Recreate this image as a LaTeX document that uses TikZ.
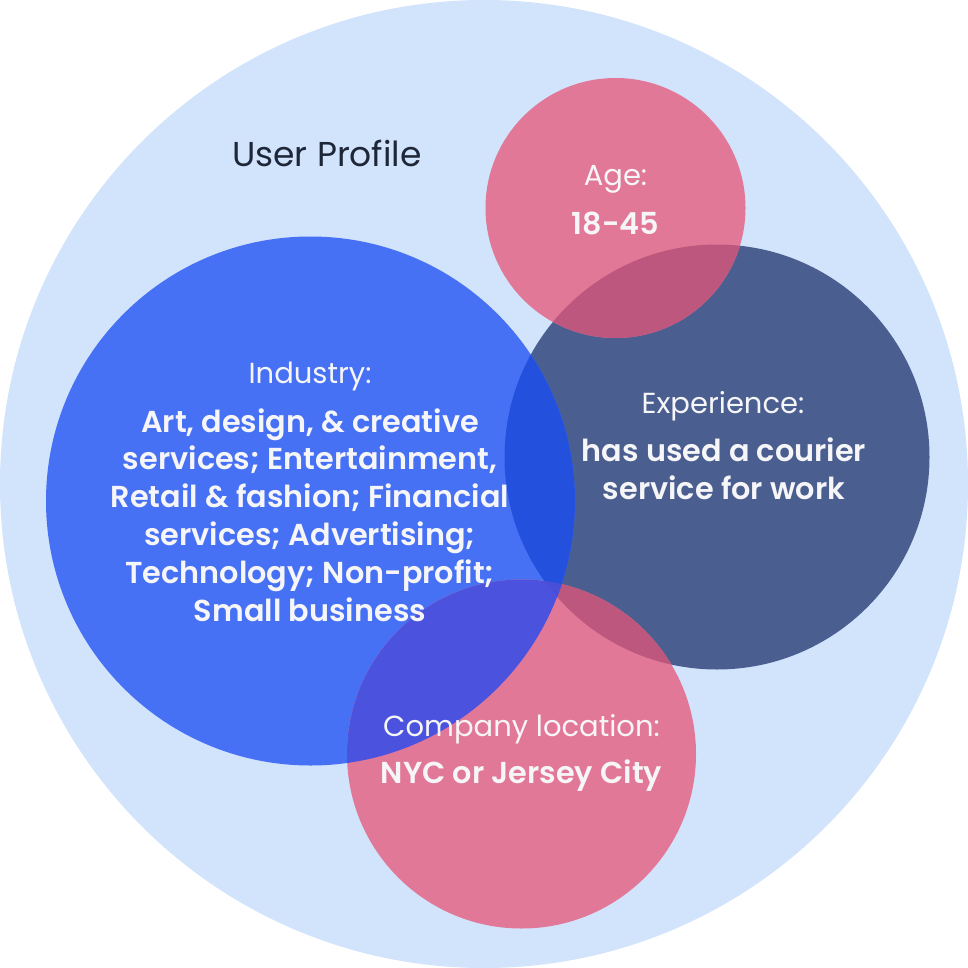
\documentclass[tikz,border=0pt]{standalone}
\usepackage{fontspec}
\setmainfont{Poppins}[BoldFont={Poppins SemiBold}]
\begin{document}
\begin{tikzpicture}[x=1pt,y=-1pt,
  headtext/.style={text=labelwhite, inner sep=0pt, anchor=base, font=\fontsize{29}{33}\selectfont},
  valtext/.style={text=labelwhite, inner sep=0pt, anchor=base, align=center, font=\bfseries\fontsize{30.3}{37.8}\selectfont},
  titletext/.style={text=titlenavy, inner sep=0pt, anchor=base, font=\fontsize{34.5}{40}\selectfont}]
\definecolor{pagebg}{HTML}{FFFFFF}
\definecolor{profileblue}{HTML}{D2E3FC}
\definecolor{agepink}{HTML}{E27897}
\definecolor{expnavy}{HTML}{4A5F90}
\definecolor{indblue}{HTML}{4771F5}
\definecolor{locpink}{HTML}{E27897}
\definecolor{pinknavy}{HTML}{BE577D}
\definecolor{bluenavy}{HTML}{2350DD}
\definecolor{pinkblue}{HTML}{4B53DE}
\definecolor{allthree}{HTML}{4A4FD8}
\definecolor{labelwhite}{HTML}{F6F5F8}
\definecolor{titlenavy}{HTML}{1E2738}
\useasboundingbox (0,0) rectangle (968,968);
\fill[pagebg] (0,0) rectangle (968,968);

% circles
\def\profilecirc{(484,484) circle (484)}
\def\agecirc{(615.5,208) circle (130)}
\def\expcirc{(717,457) circle (212.5)}
\def\indcirc{(310.5,501) circle (264.5)}
\def\loccirc{(521.5,754) circle (174.5)}

\fill[profileblue] \profilecirc;
\fill[expnavy] \expcirc;
\fill[agepink] \agecirc;
\fill[indblue] \indcirc;
\fill[locpink] \loccirc;

% overlaps
\begin{scope}\clip \expcirc; \fill[pinknavy] \agecirc; \end{scope}
\begin{scope}\clip \expcirc; \fill[pinknavy] \loccirc; \end{scope}
\begin{scope}\clip \expcirc; \fill[bluenavy] \indcirc; \end{scope}
\begin{scope}\clip \indcirc; \fill[pinkblue] \loccirc; \end{scope}
\begin{scope}\clip \indcirc; \clip \expcirc; \fill[allthree] \loccirc; \end{scope}

% labels (multi-line nodes sit on the baseline of their last line)
\node[titletext] (title) at (327,167) {User Profile};
\node[headtext] (agehead) at (615.5,186) {Age:};
\node[valtext] (ageval) at (615.5,235) {18-45};
\node[headtext] (exphead) at (723,413) {Experience:};
\node[valtext] (expval) at (724,499) {has used a courier\\service for work};
\node[headtext] (indhead) at (310,383) {Industry:};
\node[valtext] (indval) at (310,621) {Art, design, \& creative\\services; Entertainment,\\Retail \& fashion; Financial\\services; Advertising;\\Technology; Non-profit;\\Small business};
\node[headtext] (lochead) at (521.5,736) {Company location:};
\node[valtext] (locval) at (521.5,783) {NYC or Jersey City};
\end{tikzpicture}
\end{document}
